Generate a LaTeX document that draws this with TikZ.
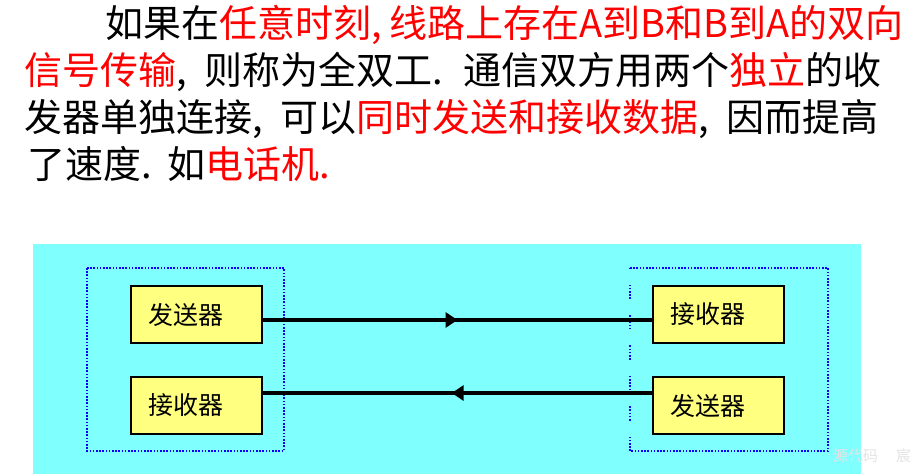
\documentclass[tikz,border=0pt]{standalone}
\usepackage{fontspec}
\setmainfont{Noto Sans CJK SC}
\usetikzlibrary{arrows.meta,decorations.markings}
\definecolor{cyanbg}{RGB}{128,255,255}
\definecolor{boxyellow}{RGB}{255,255,128}
\definecolor{dotblue}{RGB}{0,0,255}
\definecolor{hired}{RGB}{255,0,0}
\definecolor{wmgray}{RGB}{228,228,228}
\begin{document}
\begin{tikzpicture}[x=1pt,y=-1pt,
  txtline/.style={anchor=base west,inner sep=0pt,font=\fontsize{38}{47}\selectfont},
  unitbox/.style={draw=black,line width=1.5pt,fill=boxyellow,minimum width=131pt,minimum height=57pt,
    inner xsep=17pt,text width=97pt,align=left,font=\fontsize{25}{28}\selectfont},
  groupbox/.style={draw=dotblue,line width=1.6pt,dash pattern=on 1.6pt off 1.6pt},
  sparsebox/.style={draw=dotblue,line width=1.6pt,dash pattern=on 1.6pt off 1.6pt on 1.6pt off 1.6pt on 1.6pt off 1.6pt on 1.6pt off 1.6pt on 1.6pt off 16pt},
  link/.style={line width=3.8pt,draw=black},
  fwd/.style={postaction={decorate},decoration={markings,mark=at position #1 with {\arrow{Triangle[length=12pt,width=15pt]}}}}
]
\useasboundingbox (0,0) rectangle (922,474);
\fill[white] (0,0) rectangle (922,474);
% text
\node[txtline] (l1) at (105,37) {如果在\textcolor{hired}{任意时刻,\hspace{8pt}线路上存在A到B和B到A的双向}};
\node[txtline] (l2) at (24,84) {\textcolor{hired}{信号传输},\hspace{9pt} 则称为全双工.\hspace{9pt} 通信双方用两个\textcolor{hired}{独立}的收};
\node[txtline] (l3) at (24,131) {发器单独连接,\hspace{9pt} 可以\textcolor{hired}{同时发送和接收数据},\hspace{9pt} 因而提高};
\node[txtline] (l4) at (27,178) {了速度.\hspace{4pt} 如\textcolor{hired}{电话机.}};
% diagram background
\fill[cyanbg] (33,244) rectangle (861,474);
\draw[groupbox] (87,268) rectangle (284,451);
\draw[groupbox] (630,268) -- (828,268) -- (828,451) -- (630,451);
\draw[sparsebox] (630,451) -- (630,268);
\node[unitbox] (sendA) at (196.5,314.5) {发送器};
\node[unitbox] (recvA) at (196.5,405.5) {接收器};
\node[unitbox] (recvB) at (718.5,314.5) {接收器};
\node[unitbox] (sendB) at (718.5,405.5) {发送器};
\draw[link,fwd=0.50] ([yshift=-5.5pt]sendA.east) -- ([yshift=-5.5pt]recvB.west);
\draw[link,fwd=0.515] ([yshift=12.5pt]sendB.west) -- ([yshift=12.5pt]recvA.east);
\node[anchor=base west,inner sep=0pt,text=wmgray,font=\fontsize{15}{15}\selectfont] (wm) at (833,461) {源代码\hspace{18pt}宸};
\end{tikzpicture}
\end{document}
